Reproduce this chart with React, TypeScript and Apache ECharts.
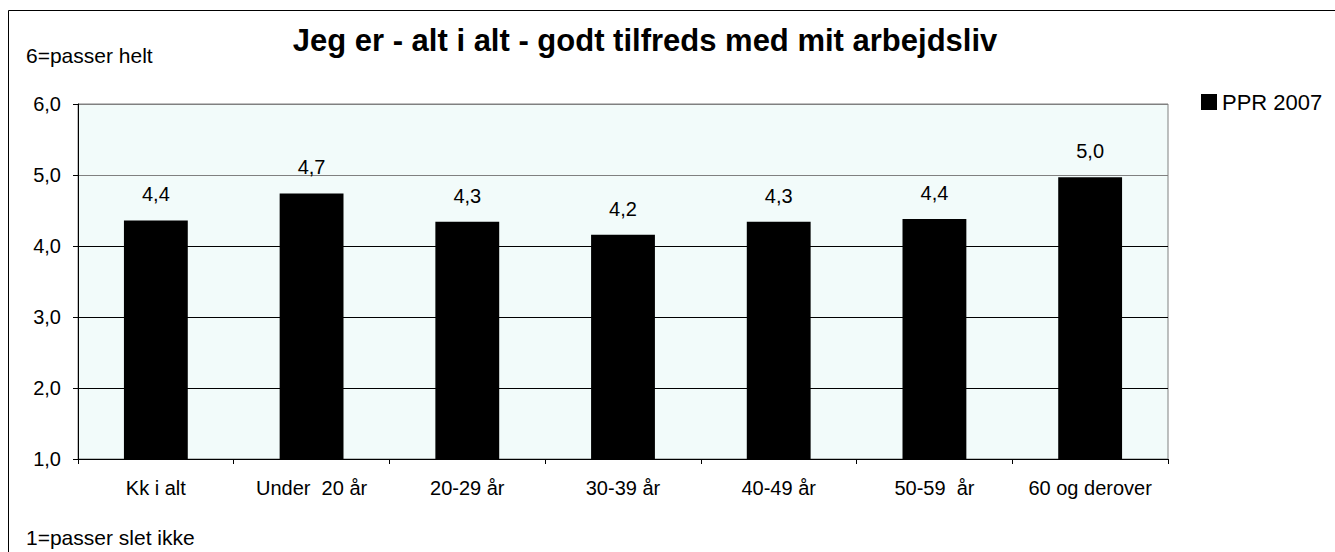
import React, { useEffect, useRef } from "react";
import * as echarts from "echarts";

const categories = ["Kk i alt", "Under  20 år", "20-29 år", "30-39 år", "40-49 år", "50-59  år", "60 og derover"];
const values = [4.36, 4.74, 4.34, 4.16, 4.34, 4.38, 4.97];
const seriesName = "PPR 2007";
const titleText = "Jeg er - alt i alt - godt tilfreds med mit arbejdsliv";
const topNote = "6=passer helt";
const bottomNote = "1=passer slet ikke";

const FONT = "'Liberation Sans', Arial, sans-serif";
const fmt = (v: number) => v.toFixed(1).replace(".", ",");

export default function App() {
  const ref = useRef<HTMLDivElement>(null);
  useEffect(() => {
    if (!ref.current) return;
    const chart = echarts.init(ref.current, undefined, { renderer: "svg" });
    chart.setOption({
      animation: false,
      backgroundColor: "#ffffff",
      textStyle: { fontFamily: FONT, color: "#000" },
      title: {
        text: titleText,
        left: 640,
        textAlign: "center",
        top: 20,
        textStyle: { fontFamily: FONT, fontSize: 31, fontWeight: "bold", color: "#000" },
      },
      legend: {
        left: 1196,
        top: 86,
        icon: "rect",
        itemWidth: 16,
        itemHeight: 16,
        itemGap: 6,
        textStyle: { fontFamily: FONT, fontSize: 22, color: "#000" },
        data: [seriesName],
      },
      graphic: [
        {
          type: "rect",
          shape: { x: 8.5, y: 10.5, width: 1400, height: 700 },
          style: { fill: "none", stroke: "#000", lineWidth: 1 },
          silent: true,
        },
        {
          type: "text",
          left: 26,
          top: 45,
          style: { text: topNote, fontFamily: FONT, fontSize: 21, fill: "#000" },
        },
        {
          type: "text",
          left: 26,
          top: 527,
          style: { text: bottomNote, fontFamily: FONT, fontSize: 21, fill: "#000" },
        },
      ],
      grid: {
        left: 78,
        top: 104,
        right: 167,
        bottom: 93,
        containLabel: false,
        show: true,
        backgroundColor: "#F2FBFA",
        borderColor: "#808080",
        borderWidth: 1,
      },
      xAxis: {
        type: "category",
        data: categories,
        boundaryGap: true,
        axisLine: { show: true, lineStyle: { color: "#000", width: 1 } },
        axisTick: { show: true, alignWithLabel: false, length: 5, lineStyle: { color: "#000" } },
        axisLabel: { fontFamily: FONT, fontSize: 20, color: "#000", margin: 19, interval: 0 },
      },
      yAxis: {
        type: "value",
        min: 1,
        max: 6,
        interval: 1,
        axisLine: { show: true, lineStyle: { color: "#000", width: 1 } },
        axisTick: { show: true, length: 5, lineStyle: { color: "#000" } },
        axisLabel: { fontFamily: FONT, fontSize: 20, color: "#000", margin: 17, formatter: (v: number) => fmt(v) },
        splitLine: {
          show: true,
          lineStyle: { color: ["#000", "#000", "#000", "#000", "#808080", "#808080"], width: 1 },
        },
      },
      series: [
        {
          name: seriesName,
          type: "bar",
          data: values,
          barWidth: "41%",
          itemStyle: { color: "#000" },
          label: {
            show: true,
            position: "top",
            distance: 16,
            fontFamily: FONT,
            fontSize: 20,
            color: "#000",
            formatter: (p: any) => fmt(p.value),
          },
        },
      ],
    });
    return () => chart.dispose();
  }, []);
  return <div ref={ref} style={{ position: "fixed", left: 0, top: 0, width: 1335, height: 552 }} />;
}
